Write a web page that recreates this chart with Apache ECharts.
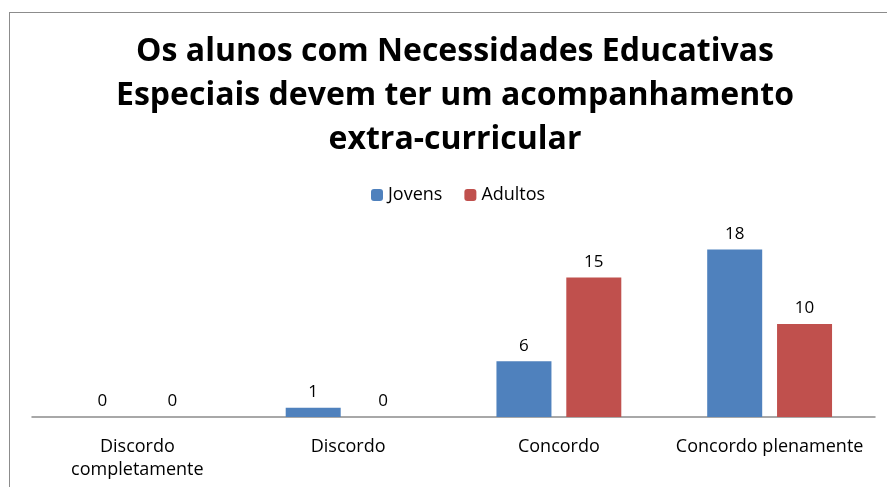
<!DOCTYPE html>
<html>
<head>
<meta charset="utf-8">
<script src="https://cdn.jsdelivr.net/npm/echarts@6/dist/echarts.min.js"></script>
<style>
  html, body { margin: 0; padding: 0; background: #fff; }
  #chart { width: 887px; height: 487px; }
  .frame { position: absolute; left: 9px; top: 12px; width: 900px; height: 500px; border: 1px solid #8c8c8c; pointer-events: none; }
</style>
</head>
<body>
<div id="chart"></div>
<div class="frame"></div>
<script>
  var categories = ['Discordo\ncompletamente', 'Discordo', 'Concordo', 'Concordo plenamente'];
  var jovens = [0, 1, 6, 18];
  var adultos = [0, 0, 15, 10];
  var titleText = 'Os alunos com Necessidades Educativas\nEspeciais devem ter um acompanhamento\nextra-curricular';

  var chart = echarts.init(document.getElementById('chart'));

  var labelStyle = {
    show: true,
    position: 'top',
    distance: 7,
    color: '#000',
    fontSize: 17,
    fontFamily: 'Open Sans'
  };

  chart.setOption({
    animation: false,
    backgroundColor: '#fff',
    title: {
      text: titleText,
      left: 450,
      textAlign: 'center',
      top: 25,
      textStyle: {
        fontFamily: 'Open Sans',
        fontWeight: 'bold',
        fontSize: 32,
        lineHeight: 44,
        color: '#000'
      }
    },
    legend: {
      top: 181,
      left: 366,
      itemWidth: 12,
      itemHeight: 12,
      itemGap: 22,
      textStyle: { fontSize: 18, fontFamily: 'Open Sans', color: '#000' },
      data: ['Jovens', 'Adultos']
    },
    grid: {
      left: 32,
      right: 12,
      top: 231,
      bottom: 70
    },
    xAxis: {
      type: 'category',
      data: categories,
      axisTick: { show: false },
      axisLine: { lineStyle: { color: '#8c8c8c', width: 1.5 } },
      axisLabel: {
        color: '#000',
        fontSize: 18,
        fontFamily: 'Open Sans',
        margin: 18,
        lineHeight: 23,
        interval: 0
      }
    },
    yAxis: {
      type: 'value',
      min: 0,
      max: 20,
      show: false
    },
    series: [
      {
        name: 'Jovens',
        type: 'bar',
        data: jovens,
        barWidth: 55,
        barGap: '27%',
        itemStyle: { color: '#4f81bd' },
        label: labelStyle
      },
      {
        name: 'Adultos',
        type: 'bar',
        data: adultos,
        barWidth: 55,
        itemStyle: { color: '#c0504d' },
        label: labelStyle
      }
    ]
  });
</script>
</body>
</html>
